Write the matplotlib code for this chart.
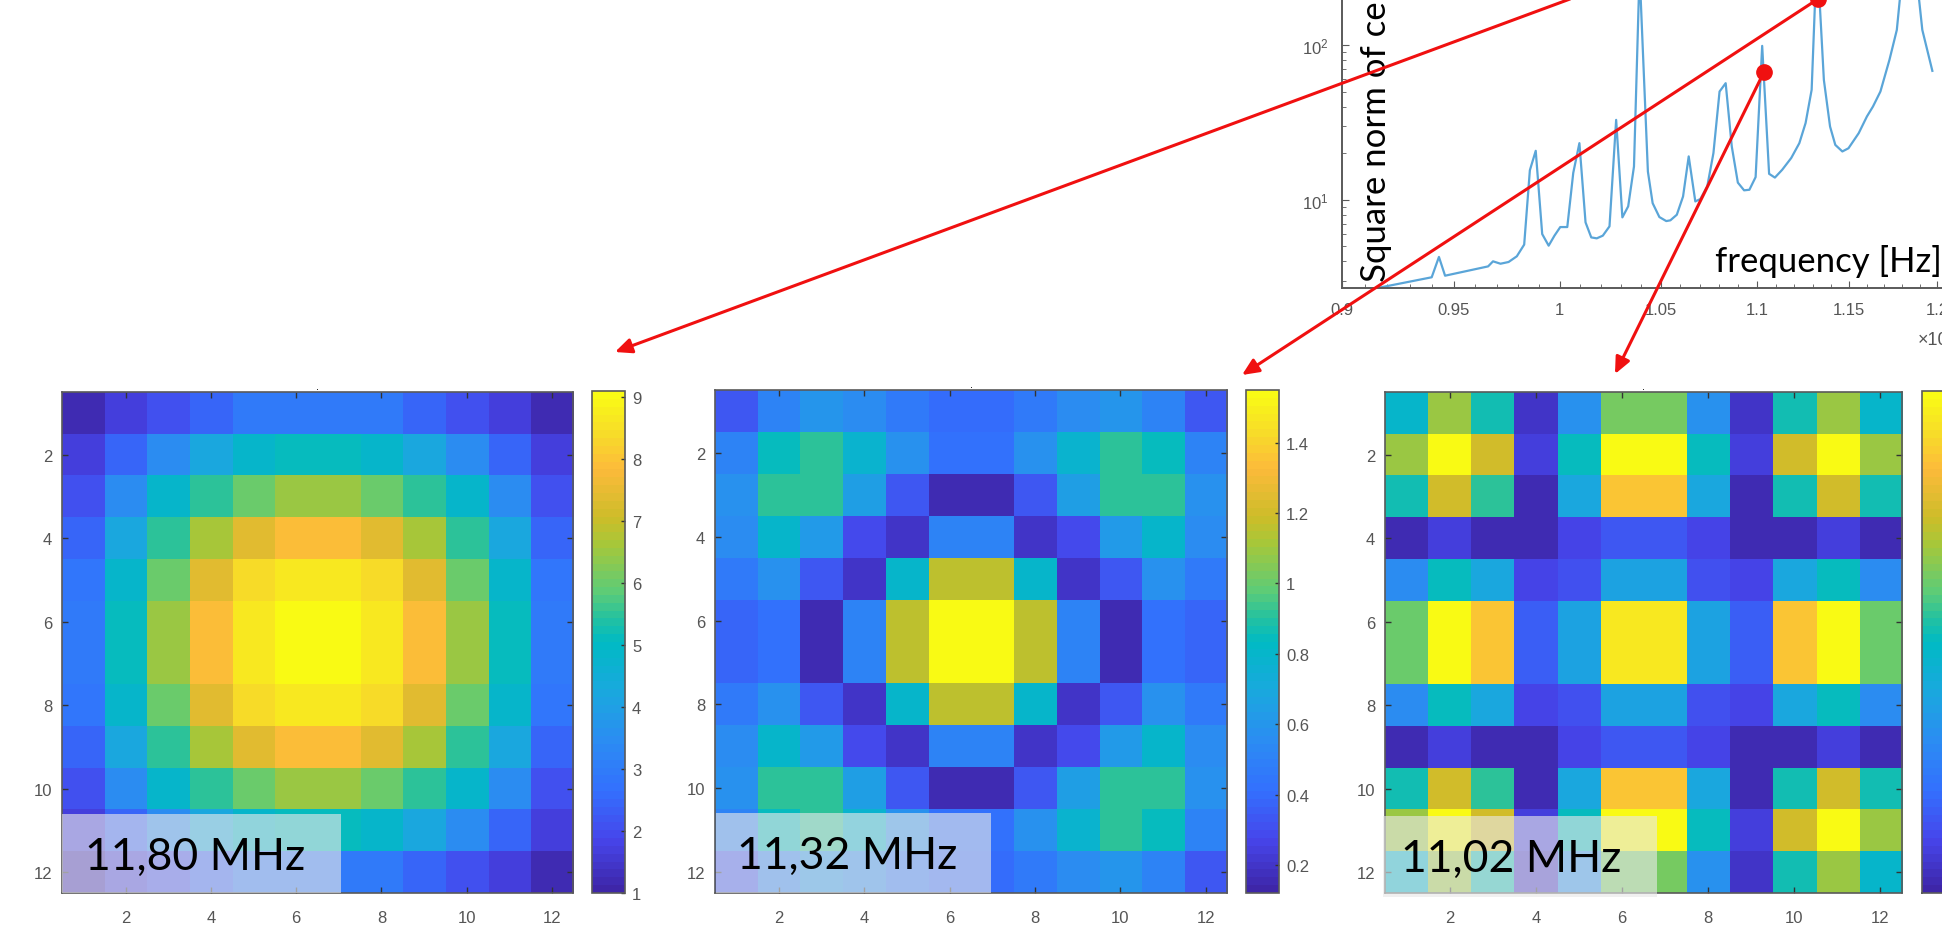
import matplotlib
matplotlib.use('Agg')
import numpy as np
import matplotlib.pyplot as plt
from matplotlib.colors import LinearSegmentedColormap
from matplotlib.patches import Rectangle

W, H = 1942, 928

parula = LinearSegmentedColormap.from_list('parula', [
    (0.00, (0.2422, 0.1504, 0.6603)), (0.10, (0.2760, 0.2700, 0.9200)), (0.20, (0.2000, 0.4400, 0.9950)),
    (0.30, (0.1700, 0.5500, 0.9500)), (0.40, (0.1000, 0.6600, 0.8700)), (0.50, (0.0000, 0.7300, 0.7700)),
    (0.55, (0.1500, 0.7600, 0.6200)), (0.60, (0.3600, 0.8000, 0.4700)), (0.70, (0.6600, 0.7800, 0.2200)),
    (0.75, (0.8000, 0.7400, 0.1600)), (0.85, (0.9900, 0.7300, 0.2300)), (0.92, (0.9700, 0.8600, 0.1600)),
    (1.00, (0.9769, 0.9839, 0.0805))], N=64)

freq = [0.9156, 0.9399, 0.9432, 0.9460, 0.9659, 0.9682, 0.9717, 0.9755, 0.9794, 0.9829,
        0.9856, 0.9884, 0.9915, 0.9946, 0.9974, 1.0002, 1.0036, 1.0065, 1.0095, 1.0125,
        1.0153, 1.0180, 1.0210, 1.0243, 1.0276, 1.0307, 1.0336, 1.0365, 1.0393, 1.0435,
        1.0459, 1.0493, 1.0528, 1.0549, 1.0582, 1.0614, 1.0643, 1.0677, 1.0703, 1.0739,
        1.0771, 1.0803, 1.0835, 1.0867, 1.0899, 1.0932, 1.0960, 1.0993, 1.1028, 1.1065,
        1.1096, 1.1135, 1.1184, 1.1228, 1.1262, 1.1295, 1.1324, 1.1362, 1.1396, 1.1425,
        1.1464, 1.1498, 1.1555, 1.1601, 1.1635, 1.1677, 1.1728, 1.1770, 1.1803, 1.1880,
        1.1916, 1.1974]
norm2 = [2.69, 3.155, 4.27, 3.23, 3.71, 4.0, 3.86, 3.96, 4.31, 5.13,
         15.5, 20.7, 6.0, 5.05, 5.86, 6.66, 6.66, 14.9, 23.2, 7.14,
         5.71, 5.63, 5.86, 6.73, 32.8, 7.69, 9.06, 16.4, 300, 15.2,
         9.5, 7.73, 7.28, 7.36, 8.0, 10.5, 19.05, 9.75, 10.1, 12.2,
         20.0, 50.0, 56.6, 22.1, 12.9, 11.5, 11.6, 14.0, 98.6, 14.7,
         13.9, 15.6, 18.6, 23.2, 31.3, 51.3, 400, 59.4, 29.7, 22.6,
         20.5, 21.5, 26.9, 34.5, 40.0, 50.0, 80.0, 125, 300, 300,
         125, 68]
freq_ticks = [0.9, 0.95, 1, 1.05, 1.1, 1.15, 1.2]
freq_labels = ['0.9', '0.95', '1', '1.05', '1.1', '1.15', '1.2']

mode_1180 = [
    [1.2, 1.7, 2.1, 2.5, 2.9, 3.0, 3.0, 2.9, 2.5, 2.1, 1.7, 1.2],
    [1.7, 2.5, 3.5, 4.2, 4.8, 5.1, 5.1, 4.8, 4.2, 3.5, 2.5, 1.7],
    [2.1, 3.5, 4.8, 5.5, 6.0, 6.5, 6.5, 6.0, 5.5, 4.8, 3.5, 2.1],
    [2.5, 4.2, 5.5, 6.6, 7.4, 7.9, 7.9, 7.4, 6.6, 5.5, 4.2, 2.5],
    [2.8, 4.8, 6.0, 7.4, 8.45, 8.6, 8.6, 8.45, 7.4, 6.0, 4.8, 2.8],
    [3.0, 5.1, 6.5, 7.9, 8.65, 9.1, 9.1, 8.65, 7.9, 6.5, 5.1, 3.0],
    [3.0, 5.1, 6.5, 7.9, 8.65, 9.1, 9.1, 8.65, 7.9, 6.5, 5.1, 3.0],
    [2.8, 4.8, 6.0, 7.4, 8.45, 8.6, 8.6, 8.45, 7.4, 6.0, 4.8, 2.8],
    [2.5, 4.2, 5.5, 6.6, 7.4, 7.9, 7.9, 7.4, 6.6, 5.5, 4.2, 2.5],
    [2.1, 3.5, 4.8, 5.5, 6.0, 6.5, 6.5, 6.0, 5.5, 4.8, 3.5, 2.1],
    [1.7, 2.5, 3.5, 4.2, 4.8, 5.1, 5.1, 4.8, 4.2, 3.5, 2.5, 1.7],
    [1.2, 1.7, 2.1, 2.5, 2.9, 3.0, 3.0, 2.9, 2.5, 2.1, 1.7, 1.2]]
mode_1132 = [
    [.33, .52, .60, .56, .47, .40, .40, .47, .55, .60, .52, .33],
    [.52, .84, .91, .79, .58, .42, .42, .58, .79, .91, .84, .52],
    [.58, .91, .91, .65, .33, .15, .15, .33, .65, .91, .91, .58],
    [.55, .80, .62, .28, .20, .50, .50, .20, .28, .62, .80, .55],
    [.47, .58, .33, .20, .80, 1.15, 1.15, .80, .20, .33, .58, .47],
    [.38, .42, .15, .50, 1.15, 1.55, 1.55, 1.15, .50, .15, .42, .38],
    [.38, .42, .15, .50, 1.15, 1.55, 1.55, 1.15, .50, .15, .42, .38],
    [.47, .58, .33, .20, .80, 1.15, 1.15, .80, .20, .33, .58, .47],
    [.55, .80, .62, .28, .20, .50, .50, .20, .28, .62, .80, .55],
    [.58, .91, .91, .65, .33, .15, .15, .33, .65, .91, .91, .58],
    [.52, .84, .91, .79, .58, .42, .42, .58, .79, .91, .84, .52],
    [.33, .52, .60, .56, .47, .40, .40, .47, .55, .60, .52, .33]]
mode_1102 = [
    [.47, .68, .53, .05, .32, .63, .63, .32, .05, .53, .68, .47],
    [.68, 1.0, .76, .08, .50, 1.0, 1.0, .50, .08, .76, 1.0, .68],
    [.53, .76, .55, .03, .40, .87, .87, .40, .03, .53, .76, .53],
    [.03, .08, .03, .03, .10, .15, .15, .10, .03, .03, .08, .03],
    [.30, .50, .40, .10, .14, .39, .39, .14, .10, .40, .50, .30],
    [.62, 1.0, .87, .17, .39, .94, .94, .39, .17, .87, 1.0, .62],
    [.62, 1.0, .87, .17, .39, .94, .94, .39, .17, .87, 1.0, .62],
    [.30, .50, .40, .10, .14, .39, .39, .14, .10, .40, .50, .30],
    [.03, .08, .03, .03, .10, .15, .15, .10, .03, .03, .08, .03],
    [.53, .76, .55, .03, .40, .87, .87, .40, .03, .53, .76, .53],
    [.68, 1.0, .76, .08, .50, 1.0, 1.0, .50, .08, .76, 1.0, .68],
    [.47, .68, .53, .05, .32, .63, .63, .32, .05, .53, .68, .47]]

cb_ticks_1180 = [1, 2, 3, 4, 5, 6, 7, 8, 9]
cb_ticks_1132 = [0.2, 0.4, 0.6, 0.8, 1, 1.2, 1.4]
cb_labels_1132 = ['0.2', '0.4', '0.6', '0.8', '1', '1.2', '1.4']

GREY = '#555555'
EDGE = '#5a5a5a'
TICK_FONT = 'Liberation Sans'


def axes_px(fig, x0, y0, x1, y1):
    # pixel box measured from the top left of the picture
    return fig.add_axes([x0 / W, 1 - y1 / H, (x1 - x0) / W, (y1 - y0) / H])


def heatmap(fig, data, box, cbar_box, lims, ticks=None, labels=None):
    ax = axes_px(fig, *box)
    im = ax.imshow(data, cmap=parula, aspect='auto', interpolation='nearest', vmin=lims[0], vmax=lims[1])
    ax.set_xticks(range(1, 12, 2))
    ax.set_xticklabels(range(2, 13, 2), family=TICK_FONT)
    ax.set_yticks(range(1, 12, 2))
    ax.set_yticklabels(range(2, 13, 2), family=TICK_FONT)
    ax.tick_params(direction='in', top=True, right=True, length=4, width=1,
                   color='#333333', labelcolor=GREY, labelsize=12)
    ax.tick_params(axis='x', pad=12)
    ax.tick_params(axis='y', pad=7)
    for s in ax.spines.values():
        s.set_color(EDGE)
        s.set_linewidth(1.2)
    ax.set_title('.', fontsize=7, pad=2)

    cax = axes_px(fig, *cbar_box)
    cb = fig.colorbar(im, cax=cax)
    cb.outline.set_edgecolor(EDGE)
    cb.outline.set_linewidth(1.2)
    if ticks is None:
        cb.set_ticks([])
    else:
        cb.set_ticks(ticks)
        cb.set_ticklabels(labels if labels else ticks, family=TICK_FONT)
        cax.tick_params(direction='in', length=3, width=1, color='#333333',
                        labelcolor=GREY, labelsize=12, pad=5)


fig = plt.figure(figsize=(W / 100, H / 100), dpi=100, facecolor='white')

# spectrum, its top and right run off the picture
ax = axes_px(fig, 1342, 0, 1942, 289)
ax.plot(freq, norm2, color='#5aa5d8', lw=1.6)
ax.set_xscale('log')
ax.set_yscale('log')
ax.set_xlim(0.9, 1.203)
ax.set_ylim(2.69, 198)
ax.set_xticks(freq_ticks)
ax.set_xticklabels(freq_labels, family=TICK_FONT)
ax.set_xticks(np.arange(0.91, 1.2, 0.01), minor=True)
ax.xaxis.set_minor_formatter(plt.NullFormatter())
for lab in ax.get_yticklabels():
    lab.set_family(TICK_FONT)
ax.spines['top'].set_visible(False)
ax.spines['right'].set_visible(False)
for s in ['left', 'bottom']:
    ax.spines[s].set_color(EDGE)
    ax.spines[s].set_linewidth(1.4)
ax.tick_params(which='major', direction='in', length=5, color=EDGE, labelcolor=GREY, labelsize=12, pad=10)
ax.tick_params(which='minor', direction='in', length=3, color=EDGE)

heatmap(fig, mode_1180, (62, 393, 573, 894), (592, 392, 625, 894), (1, 9.1), cb_ticks_1180)
heatmap(fig, mode_1132, (715, 391, 1227, 894), (1246, 391, 1279, 894), (0.12, 1.55), cb_ticks_1132, cb_labels_1132)
heatmap(fig, mode_1102, (1385, 393, 1902, 894), (1922, 392, 1962, 894), (0, 1))

# overlay in picture pixels for the slide annotations
over = fig.add_axes([0, 0, 1, 1], zorder=10)
over.set_xlim(0, W)
over.set_ylim(H, 0)
over.axis('off')

boxes = [(62, 815, 279, 79), (716, 814, 275, 80), (1383, 817, 274, 81)]
texts = ['11,80 MHz', '11,32 MHz', '11,02 MHz']
text_x = [195, 847, 1511]
for b, t, tx in zip(boxes, texts, text_x):
    over.add_patch(Rectangle((b[0], b[1]), b[2], b[3], fc='#e8e8e8', ec='none', alpha=0.62))
    over.text(tx, b[1] + 42, t, family='Lato', fontsize=32, color='black', ha='center', va='center')

over.text(1942, 262, 'frequency [Hz]', family='Lato', fontsize=25, color='black', ha='right', va='center')
over.text(1376, 282, 'Square norm of ce', family='Lato', fontsize=25, color='black',
          rotation=90, ha='center', va='bottom', rotation_mode='default')
over.text(1918, 341, '×10', family='Liberation Sans', fontsize=13, color=GREY, ha='left', va='center')

arrows = [((1570, 0), (615, 353)), ((1818, 0), (1242, 376)), ((1764, 73), (1615, 375))]
for start, end in arrows:
    over.annotate('', xy=end, xytext=start,
                  arrowprops=dict(arrowstyle='-|>,head_length=1.0,head_width=0.45', color='#f01010', lw=2.2,
                                  shrinkA=0, shrinkB=0))
over.plot([1764, 1818], [73, 0], 'o', color='#f01010', ms=11, ls='none')

fig.savefig('out.png', dpi=100)
